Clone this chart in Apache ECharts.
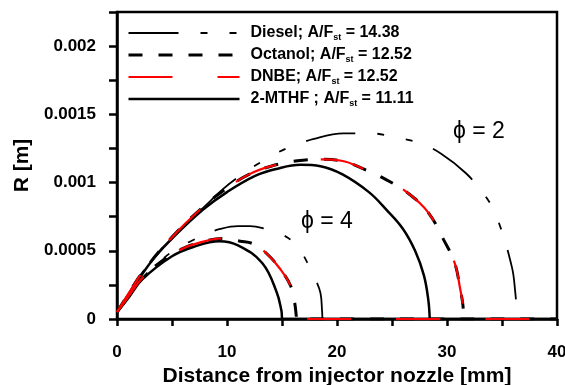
<!DOCTYPE html>
<html>
<head>
<meta charset="utf-8">
<script src="https://cdn.jsdelivr.net/npm/echarts@6/dist/echarts.min.js"></script>
<style>
  html, body { margin: 0; padding: 0; background: #fff; }
  #chart { width: 565px; height: 385px; }
</style>
</head>
<body>
<div id="chart"></div>
<script>
// data: [distance mm, R m]
var diesel2 = [[0,0.00005],[1,0.00018],[2.3,0.00034],[5,0.0006],[7.9,0.00082],[9.6,0.00095],[11.2,0.00105],[13.3,0.00116],[15.4,0.00125],[17.9,0.00132],[20.6,0.00136],[23.1,0.00136],[25.4,0.00133],[27.5,0.00129],[29.5,0.00121],[31.7,0.00107],[33.5,0.0009],[34.6,0.00073],[35.9,0.00038],[36.2,0.0002],[36.35,0.00005],[36.4,0]];
var diesel4 = [[0,0.00005],[1,0.00016],[2.3,0.0003],[4,0.00043],[5.5,0.00052],[6.7,0.00057],[8,0.00062],[9.4,0.00066],[11,0.00068],[12.1,0.00068],[13.5,0.00066],[15,0.00062],[16.3,0.00054],[17.4,0.0004],[18.1,0.00028],[18.5,0.00019],[18.65,0.00005],[18.7,0],[40,0]];
var octanol2 = [[0,0.00005],[1,0.00018],[2.3,0.00034],[5,0.0006],[7.8,0.00082],[10,0.00096],[12,0.00106],[14,0.00112],[16.4,0.00116],[18.5,0.00117],[20.4,0.00116],[22.4,0.0011],[24.5,0.00102],[26.5,0.00092],[28.3,0.00078],[29.7,0.00058],[30.7,0.00041],[31.2,0.00022],[31.45,0.0001],[31.5,0]];
var octanol4 = [[0,0.00005],[1,0.00016],[2.3,0.0003],[4,0.00042],[5.8,0.00051],[7.5,0.00056],[9.6,0.00059],[11.2,0.00057],[12.4,0.00055],[13.6,0.00048],[14.8,0.00037],[15.8,0.00024],[16.15,0.00012],[16.3,0.00002],[16.32,0],[40,0]];
var dnbe2 = [[0,0.00005],[1,0.00018],[2.3,0.00034],[5,0.0006],[7.8,0.00082],[10,0.00096],[12,0.00106],[14,0.00112],[16.4,0.00116],[18.5,0.00117],[20.4,0.00116],[22.4,0.0011],[24.5,0.00102],[26.5,0.00092],[28.3,0.00078],[29.7,0.00058],[30.7,0.00041],[31.2,0.00022],[31.45,0.0001],[31.5,0]];
var dnbe4 = [[0,0.00005],[1,0.00016],[2.3,0.0003],[4,0.00042],[5.8,0.00051],[7.5,0.00056],[9.6,0.00059],[11.2,0.00057],[12.4,0.00055],[13.6,0.00048],[14.8,0.00037],[15.8,0.00024],[16.15,0.00012],[16.3,0.00002],[16.32,0],[40,0]];
var mthf2 = [[0,0.00005],[1,0.00017],[2.3,0.00033],[3.5,0.00046],[5,0.00059],[7.8,0.0008],[10,0.00093],[12.6,0.00105],[14.5,0.0011],[16.7,0.00113],[18.5,0.00112],[20.5,0.00106],[22.9,0.00093],[24.5,0.0008],[26,0.00066],[27.1,0.0005],[27.9,0.00032],[28.3,0.00014],[28.43,0]];
var mthf4 = [[0,0.00005],[1,0.00015],[2.3,0.00029],[5,0.00046],[7,0.00053],[9.3,0.00057],[11,0.00054],[13.2,0.00041],[14.5,0.0002],[14.95,0.00006],[15.05,0],[40,0]];

var fuelNames = ['Diesel; A/Fst = 14.38', 'Octanol; A/Fst = 12.52', 'DNBE; A/Fst = 12.52', '2-MTHF ; A/Fst = 11.11'];
var xTickLabels = ['0', '10', '20', '30', '40'];
var yTickLabels = ['0', '0.0005', '0.001', '0.0015', '0.002'];

var FONT = 'Liberation Sans, Arial, sans-serif';

var styleDiesel = { color: '#000', width: 1.8, type: [50, 22, 7, 22, 7, 22] };
var styleOctanol = { color: '#000', width: 3, type: [14, 16] };
var styleDnbe = { color: '#ff0000', width: 2.2, type: [44, 45] };
var styleMthf = { color: '#000', width: 2.5, type: 'solid' };

function line(name, data, ls) {
  return {
    name: name,
    type: 'line',
    data: data,
    smooth: 0.4,
    symbol: 'none',
    color: ls.color,
    lineStyle: ls,
    animation: false
  };
}

var chart = echarts.init(document.getElementById('chart'));

var option = {
  animation: false,
  grid: {
    left: 117, right: 8, top: 12, bottom: 66,
    outerBoundsMode: 'none',
    show: true, borderColor: '#000', borderWidth: 2.5
  },
  legend: {
    data: fuelNames,
    orient: 'vertical',
    left: 127,
    top: 25,
    padding: 0,
    itemWidth: 111,
    itemHeight: 14,
    itemGap: 5,
    itemStyle: { opacity: 0 },
    lineStyle: { width: 'inherit' },
    formatter: function (name) {
      var parts = name.split('A/Fst');
      return '{m|' + parts[0] + 'A/F}{s|st}{m|' + parts[1] + '}';
    },
    textStyle: {
      padding: [0, 0, 0, 6],
      rich: {
        m: { fontFamily: FONT, fontSize: 16, fontWeight: 'bold', color: '#000', lineHeight: 18 },
        s: { fontFamily: FONT, fontSize: 9, fontWeight: 'bold', color: '#000', lineHeight: 9, verticalAlign: 'bottom' }
      }
    }
  },
  xAxis: {
    type: 'value',
    min: 0,
    max: 40,
    interval: 5,
    name: 'Distance from injector nozzle [mm]',
    nameLocation: 'middle',
    nameGap: 41,
    nameTextStyle: { fontFamily: FONT, fontSize: 21, fontWeight: 'bold', color: '#000' },
    axisLine: { lineStyle: { color: '#000', width: 2.5 } },
    axisTick: { length: 7, lineStyle: { color: '#000', width: 2.5 } },
    axisLabel: {
      margin: 25,
      fontFamily: FONT, fontSize: 17, fontWeight: 'bold', color: '#000',
      formatter: function (v) {
        return v % 10 === 0 ? xTickLabels[v / 10] : '';
      }
    },
    splitLine: { show: false }
  },
  yAxis: {
    type: 'value',
    min: 0,
    max: 0.00225,
    interval: 0.00025,
    name: 'R [m]',
    nameLocation: 'middle',
    nameGap: 82,
    nameTextStyle: { fontFamily: FONT, fontSize: 21, fontWeight: 'bold', color: '#000' },
    axisLine: { lineStyle: { color: '#000', width: 2.5 } },
    axisTick: { length: 8, lineStyle: { color: '#000', width: 2.5 } },
    axisLabel: {
      margin: 21,
      fontFamily: FONT, fontSize: 17, fontWeight: 'bold', color: '#000',
      formatter: function (v) {
        var k = v / 0.0005;
        var i = Math.round(k);
        return Math.abs(k - i) < 1e-6 && i < yTickLabels.length ? yTickLabels[i] : '';
      }
    },
    splitLine: { show: false }
  },
  graphic: [
    { type: 'text', x: 453, y: 132, style: { text: '\u03D5 = 2', font: '23px ' + FONT, fill: '#000', verticalAlign: 'middle' } },
    { type: 'text', x: 301, y: 222, style: { text: '\u03D5 = 4', font: '23px ' + FONT, fill: '#000', verticalAlign: 'middle' } }
  ],
  series: [
    line(fuelNames[3], mthf2, styleMthf),
    line(fuelNames[3], mthf4, styleMthf),
    line(fuelNames[0], diesel2, styleDiesel),
    line(fuelNames[0], diesel4, styleDiesel),
    line(fuelNames[1], octanol2, styleOctanol),
    line(fuelNames[1], octanol4, styleOctanol),
    line(fuelNames[2], dnbe2, styleDnbe),
    line(fuelNames[2], dnbe4, styleDnbe)
  ]
};

chart.setOption(option);
</script>
</body>
</html>
